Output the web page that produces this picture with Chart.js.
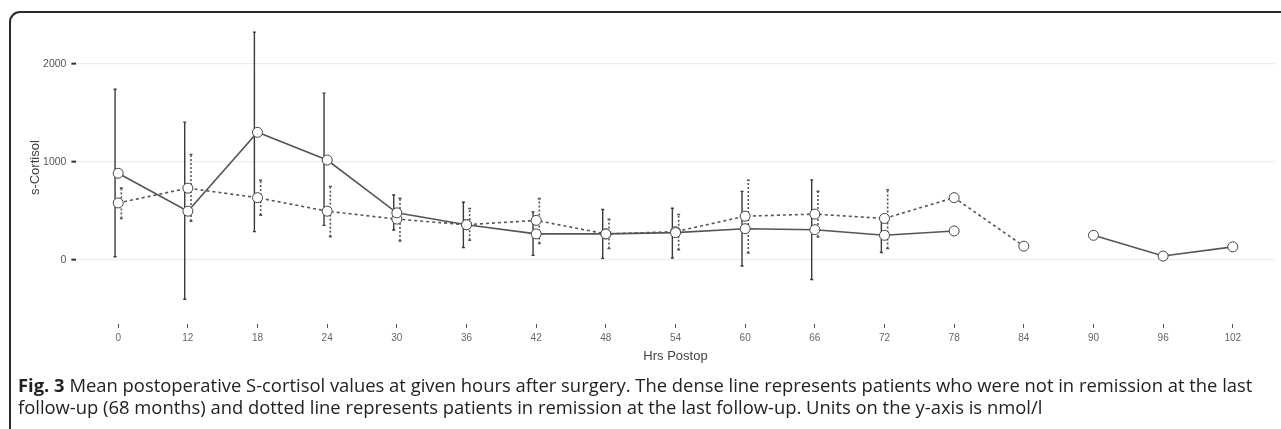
<!DOCTYPE html>
<html>
<head>
<meta charset="utf-8">
<script src="https://cdn.jsdelivr.net/npm/chart.js@4/dist/chart.umd.min.js"></script>
<style>
  html, body { margin: 0; padding: 0; background: #fff; }
  body { width: 1281px; height: 429px; position: relative; overflow: hidden; }
  #wrap { position: absolute; left: 0; top: 0; width: 1281px; height: 365px; }
  #box {
    position: absolute; left: 9px; top: 11px; width: 1320px; height: 430px;
    border: 2px solid #2a2a2a; border-top-left-radius: 11px; box-sizing: border-box;
    pointer-events: none;
  }
  #caption {
    position: absolute; left: 18px; top: 374px;
    font-family: "Open Sans", sans-serif; font-size: 18.4px; line-height: 22px;
    color: #222; white-space: nowrap;
  }
  #caption b { font-weight: 700; }
</style>
</head>
<body>
<div id="wrap"><canvas id="cortisolChart" width="1281" height="365"></canvas></div>
<div id="box"></div>
<div id="caption">
  <div><b>Fig. 3</b> Mean postoperative S-cortisol values at given hours after surgery. The dense line represents patients who were not in remission at the last</div>
  <div>follow-up (68 months) and dotted line represents patients in remission at the last follow-up. Units on the y-axis is nmol/l</div>
</div>
<script>
// Hours after surgery (category ticks)
const hours = ["0", "12", "18", "24", "30", "36", "42", "48", "54", "60", "66", "72", "78", "84", "90", "96", "102"];

// Not in remission (dense line) - mean and error bar ends
const notRemission = [882, 495, 1300, 1017, 478, 357, 263, 263, 276, 316, 306, 249, 293, null, 249, 37, 131];
const notRemLow = [30, -404, 286, 350, 303, 125, 44, 13, 17, -64, -202, 74, null, null, null, null, null];
const notRemHigh = [1740, 1404, 2323, 1700, 660, 586, 488, 512, 525, 697, 815, 421, null, null, null, null, null];

// In remission (dotted line)
const remission = [579, 730, 633, 495, 414, 357, 401, 263, 286, 444, 465, 421, 633, 138, null, null, null];
const remLow = [421, 394, 455, 235, 192, 199, 165, 114, 101, 68, 232, 114, null, null, null, null, null];
const remHigh = [730, 1074, 811, 747, 626, 522, 623, 411, 461, 811, 697, 714, null, null, null, null, null];

const yTicks = [0, 1000, 2000];

const toPoints = arr => arr.map((v, i) => ({ x: i, y: v }));

// draws vertical error bars with small caps, dodged a bit left/right
const errorBars = {
    id: 'errorBars',
    beforeDatasetsDraw(chart) {
        const { ctx, scales: { x, y } } = chart;
        const sets = [
            { low: notRemLow, high: notRemHigh, dodge: -0.045, dash: [], color: "#3a3a3a", width: 1.4 },
            { low: remLow, high: remHigh, dodge: 0.045, dash: [2, 2], color: "#555", width: 1.6 }
        ];
        ctx.save();
        sets.forEach(s => {
            ctx.strokeStyle = s.color;
            ctx.lineWidth = s.width;
            s.low.forEach((lo, i) => {
                const hi = s.high[i];
                if (lo === null || hi === null) return;
                const px = x.getPixelForValue(i + s.dodge);
                const y1 = y.getPixelForValue(lo);
                const y2 = y.getPixelForValue(hi);
                ctx.setLineDash(s.dash);
                ctx.beginPath();
                ctx.moveTo(px, y1);
                ctx.lineTo(px, y2);
                ctx.stroke();
                ctx.setLineDash([]);
                ctx.beginPath();
                ctx.moveTo(px - 1.5, y1); ctx.lineTo(px + 1.5, y1);
                ctx.moveTo(px - 1.5, y2); ctx.lineTo(px + 1.5, y2);
                ctx.stroke();
            });
        });
        ctx.restore();
    }
};

new Chart(document.getElementById("cortisolChart"), {
    type: 'line',
    data: {
        datasets: [{
            label: "Not in remission",
            data: toPoints(notRemission),
            borderColor: "#555",
            borderWidth: 1.6,
            pointRadius: 5,
            pointBackgroundColor: "#fff",
            pointBorderColor: "#444",
            pointBorderWidth: 1,
            spanGaps: false,
            tension: 0
        }, {
            label: "In remission",
            data: toPoints(remission),
            borderColor: "#555",
            borderWidth: 1.6,
            borderDash: [3, 3],
            pointRadius: 5,
            pointBackgroundColor: "#fff",
            pointBorderColor: "#444",
            pointBorderWidth: 1,
            spanGaps: false,
            tension: 0
        }]
    },
    options: {
        responsive: false,
        animation: false,
        layout: { padding: { top: 8, right: 6.4, bottom: 0, left: 0 } },
        plugins: { legend: { display: false }, tooltip: { enabled: false } },
        scales: {
            x: {
                type: 'linear',
                min: -0.6,
                max: 16.6,
                afterBuildTicks: s => { s.ticks = hours.map((h, i) => ({ value: i })); },
                afterFit: s => { s.height = 41; },
                ticks: {
                    callback: v => hours[v],
                    font: { family: "Liberation Sans", size: 10 },
                    color: "#666",
                    padding: 4,
                    maxRotation: 0,
                    autoSkip: false
                },
                grid: { drawOnChartArea: false, tickLength: 4, tickColor: "#555", tickWidth: 1 },
                border: { display: false },
                title: {
                    display: true,
                    text: "Hrs Postop",
                    font: { family: "Liberation Sans", size: 13 },
                    color: "#444",
                    padding: { top: 0, bottom: 1 }
                }
            },
            y: {
                min: -656.6,
                max: 2535.4,
                afterBuildTicks: s => { s.ticks = yTicks.map(v => ({ value: v })); },
                afterFit: s => { s.width = 76.4; },
                ticks: {
                    callback: v => String(v),
                    font: { family: "Liberation Sans", size: 10.5 },
                    color: "#555",
                    padding: 5
                },
                grid: { color: "#ececec", lineWidth: 1.3, tickLength: 5, tickColor: "#333", tickWidth: 2 },
                border: { display: false },
                title: {
                    display: true,
                    text: "s-Cortisol",
                    font: { family: "Liberation Sans", size: 13 },
                    color: "#444",
                    padding: { top: 28, bottom: 0 }
                }
            }
        }
    },
    plugins: [errorBars]
});
</script>
</body>
</html>
